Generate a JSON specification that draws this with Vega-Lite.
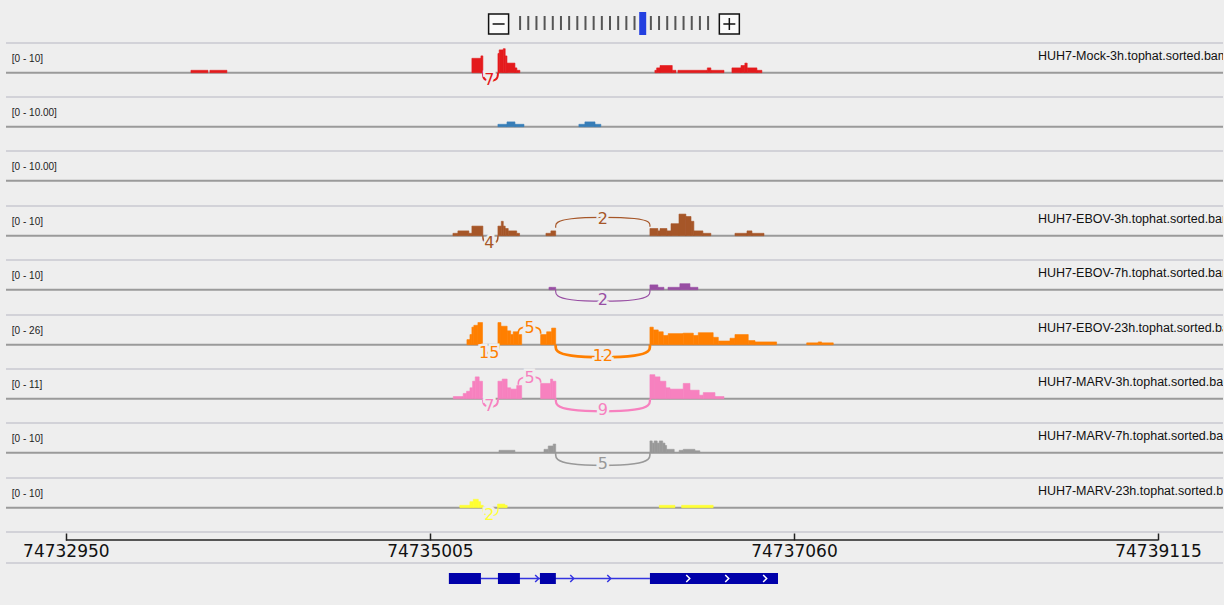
{
"$schema":"https://vega.github.io/schema/vega-lite/v6.json",
"background":"#eeeeee",
"padding":{"left":5,"right":0,"top":0,"bottom":0},
"spacing":0,
"bounds":"flush",
"config":{"view":{"stroke":null}},
"datasets":{
"tracks":[
{"track":"t1","range":"[0 - 10]","name":"HUH7-Mock-3h.tophat.sorted.bam"},
{"track":"t2","range":"[0 - 10.00]","name":""},
{"track":"t3","range":"[0 - 10.00]","name":""},
{"track":"t4","range":"[0 - 10]","name":"HUH7-EBOV-3h.tophat.sorted.bam"},
{"track":"t5","range":"[0 - 10]","name":"HUH7-EBOV-7h.tophat.sorted.bam"},
{"track":"t6","range":"[0 - 26]","name":"HUH7-EBOV-23h.tophat.sorted.bam"},
{"track":"t7","range":"[0 - 11]","name":"HUH7-MARV-3h.tophat.sorted.bam"},
{"track":"t8","range":"[0 - 10]","name":"HUH7-MARV-7h.tophat.sorted.bam"},
{"track":"t9","range":"[0 - 10]","name":"HUH7-MARV-23h.tophat.sorted.bam"}
],
"cov":[
{"track":"t1","s":74733656,"e":74733752,"v":1},{"track":"t1","s":74733763,"e":74733859,"v":1},
{"track":"t1","s":74735242,"e":74735293,"v":6},{"track":"t1","s":74735293,"e":74735304,"v":7},
{"track":"t1","s":74735389,"e":74735396,"v":8},{"track":"t1","s":74735396,"e":74735419,"v":9.5},{"track":"t1","s":74735419,"e":74735430,"v":10},{"track":"t1","s":74735430,"e":74735440,"v":7},{"track":"t1","s":74735440,"e":74735485,"v":4},{"track":"t1","s":74735485,"e":74735496,"v":2},{"track":"t1","s":74735496,"e":74735513,"v":1},
{"track":"t1","s":74736275,"e":74736285,"v":1},{"track":"t1","s":74736285,"e":74736304,"v":2},{"track":"t1","s":74736304,"e":74736373,"v":3},{"track":"t1","s":74736373,"e":74736394,"v":1},
{"track":"t1","s":74736405,"e":74736571,"v":1},{"track":"t1","s":74736571,"e":74736591,"v":2},{"track":"t1","s":74736591,"e":74736665,"v":1},
{"track":"t1","s":74736710,"e":74736761,"v":2},{"track":"t1","s":74736761,"e":74736783,"v":3},{"track":"t1","s":74736783,"e":74736796,"v":4},{"track":"t1","s":74736796,"e":74736851,"v":2},{"track":"t1","s":74736851,"e":74736879,"v":1},
{"track":"t2","s":74735389,"e":74735440,"v":1},{"track":"t2","s":74735440,"e":74735485,"v":2},{"track":"t2","s":74735485,"e":74735536,"v":1},{"track":"t2","s":74735846,"e":74735880,"v":1},{"track":"t2","s":74735880,"e":74735937,"v":2},{"track":"t2","s":74735937,"e":74735970,"v":1},
{"track":"t4","s":74735135,"e":74735163,"v":1},{"track":"t4","s":74735163,"e":74735225,"v":2},{"track":"t4","s":74735225,"e":74735242,"v":1},{"track":"t4","s":74735242,"e":74735304,"v":4},{"track":"t4","s":74735389,"e":74735408,"v":4},{"track":"t4","s":74735408,"e":74735419,"v":6},{"track":"t4","s":74735419,"e":74735430,"v":4},{"track":"t4","s":74735430,"e":74735447,"v":3},{"track":"t4","s":74735447,"e":74735495,"v":2},{"track":"t4","s":74735495,"e":74735511,"v":1},{"track":"t4","s":74735660,"e":74735688,"v":1},{"track":"t4","s":74735688,"e":74735715,"v":2},{"track":"t4","s":74736247,"e":74736292,"v":3},{"track":"t4","s":74736292,"e":74736304,"v":2},{"track":"t4","s":74736304,"e":74736343,"v":3},{"track":"t4","s":74736343,"e":74736366,"v":2},{"track":"t4","s":74736366,"e":74736411,"v":5},{"track":"t4","s":74736411,"e":74736450,"v":9},{"track":"t4","s":74736450,"e":74736479,"v":8},{"track":"t4","s":74736479,"e":74736495,"v":6},{"track":"t4","s":74736495,"e":74736546,"v":2},{"track":"t4","s":74736546,"e":74736591,"v":1},{"track":"t4","s":74736727,"e":74736795,"v":1},{"track":"t4","s":74736795,"e":74736823,"v":2},{"track":"t4","s":74736823,"e":74736891,"v":1},
{"track":"t5","s":74735677,"e":74735688,"v":1},{"track":"t5","s":74735688,"e":74735715,"v":1},{"track":"t5","s":74736247,"e":74736292,"v":2},{"track":"t5","s":74736292,"e":74736326,"v":1},{"track":"t5","s":74736349,"e":74736416,"v":1},{"track":"t5","s":74736416,"e":74736473,"v":2.5},{"track":"t5","s":74736473,"e":74736518,"v":1},
{"track":"t6","s":74735214,"e":74735231,"v":5.5},{"track":"t6","s":74735231,"e":74735242,"v":11},{"track":"t6","s":74735242,"e":74735253,"v":19},{"track":"t6","s":74735253,"e":74735276,"v":21},{"track":"t6","s":74735276,"e":74735302,"v":24},{"track":"t6","s":74735389,"e":74735406,"v":24},{"track":"t6","s":74735406,"e":74735441,"v":20},{"track":"t6","s":74735441,"e":74735461,"v":15},{"track":"t6","s":74735461,"e":74735475,"v":11},{"track":"t6","s":74735475,"e":74735504,"v":14},{"track":"t6","s":74735504,"e":74735523,"v":11},{"track":"t6","s":74735630,"e":74735664,"v":11},{"track":"t6","s":74735664,"e":74735692,"v":14},{"track":"t6","s":74735692,"e":74735715,"v":18},{"track":"t6","s":74736247,"e":74736266,"v":19},{"track":"t6","s":74736266,"e":74736294,"v":16},{"track":"t6","s":74736294,"e":74736322,"v":14},{"track":"t6","s":74736322,"e":74736350,"v":10},{"track":"t6","s":74736350,"e":74736435,"v":12},{"track":"t6","s":74736435,"e":74736492,"v":12.5},{"track":"t6","s":74736492,"e":74736520,"v":10},{"track":"t6","s":74736520,"e":74736604,"v":13},{"track":"t6","s":74736604,"e":74736633,"v":8},{"track":"t6","s":74736633,"e":74736699,"v":4},{"track":"t6","s":74736699,"e":74736727,"v":7},{"track":"t6","s":74736727,"e":74736802,"v":11},{"track":"t6","s":74736802,"e":74736840,"v":4.5},{"track":"t6","s":74736840,"e":74736962,"v":3},{"track":"t6","s":74737132,"e":74737197,"v":2},{"track":"t6","s":74737197,"e":74737216,"v":3},{"track":"t6","s":74737216,"e":74737282,"v":2},
{"track":"t7","s":74735137,"e":74735193,"v":1},{"track":"t7","s":74735193,"e":74735212,"v":2.4},{"track":"t7","s":74735212,"e":74735231,"v":3.4},{"track":"t7","s":74735231,"e":74735246,"v":5},{"track":"t7","s":74735246,"e":74735261,"v":8},{"track":"t7","s":74735261,"e":74735283,"v":10},{"track":"t7","s":74735283,"e":74735302,"v":8},{"track":"t7","s":74735389,"e":74735413,"v":8},{"track":"t7","s":74735413,"e":74735441,"v":9},{"track":"t7","s":74735441,"e":74735461,"v":5},{"track":"t7","s":74735461,"e":74735495,"v":4.4},{"track":"t7","s":74735495,"e":74735523,"v":6},{"track":"t7","s":74735630,"e":74735686,"v":7},{"track":"t7","s":74735686,"e":74735698,"v":9},{"track":"t7","s":74735698,"e":74735716,"v":8},{"track":"t7","s":74736247,"e":74736275,"v":11},{"track":"t7","s":74736275,"e":74736304,"v":10},{"track":"t7","s":74736304,"e":74736337,"v":8},{"track":"t7","s":74736337,"e":74736360,"v":5},{"track":"t7","s":74736360,"e":74736435,"v":4.4},{"track":"t7","s":74736435,"e":74736473,"v":7},{"track":"t7","s":74736473,"e":74736525,"v":3.9},{"track":"t7","s":74736525,"e":74736548,"v":1.6},{"track":"t7","s":74736548,"e":74736614,"v":2.8},{"track":"t7","s":74736614,"e":74736665,"v":1},
{"track":"t8","s":74735395,"e":74735485,"v":1},{"track":"t8","s":74735649,"e":74735673,"v":1.4},{"track":"t8","s":74735673,"e":74735701,"v":2.8},{"track":"t8","s":74735701,"e":74735715,"v":3.6},{"track":"t8","s":74736247,"e":74736260,"v":4.9},{"track":"t8","s":74736260,"e":74736271,"v":4},{"track":"t8","s":74736271,"e":74736288,"v":4.9},{"track":"t8","s":74736288,"e":74736300,"v":4},{"track":"t8","s":74736300,"e":74736319,"v":4.9},{"track":"t8","s":74736319,"e":74736332,"v":4},{"track":"t8","s":74736332,"e":74736341,"v":3},{"track":"t8","s":74736341,"e":74736384,"v":1.4},{"track":"t8","s":74736412,"e":74736435,"v":1},{"track":"t8","s":74736435,"e":74736501,"v":1.4},{"track":"t8","s":74736501,"e":74736529,"v":0.8},
{"track":"t9","s":74735174,"e":74735231,"v":1},{"track":"t9","s":74735231,"e":74735250,"v":2.5},{"track":"t9","s":74735250,"e":74735278,"v":3.5},{"track":"t9","s":74735278,"e":74735291,"v":2.5},{"track":"t9","s":74735291,"e":74735306,"v":1},{"track":"t9","s":74735387,"e":74735428,"v":1.5},{"track":"t9","s":74735428,"e":74735441,"v":1},{"track":"t9","s":74736300,"e":74736388,"v":1},{"track":"t9","s":74736426,"e":74736604,"v":1}
],
"arcs":[
{"track":"t1","id":"a","ord":1,"x":74735304,"y":0,"count":7},{"track":"t1","id":"a","ord":2,"x":74735304,"y":-3.5,"count":7},{"track":"t1","id":"a","ord":3,"x":74735389,"y":-3.5,"count":7},{"track":"t1","id":"a","ord":4,"x":74735389,"y":0,"count":7},
{"track":"t4","id":"a","ord":1,"x":74735304,"y":0,"count":4},{"track":"t4","id":"a","ord":2,"x":74735304,"y":-3.5,"count":4},{"track":"t4","id":"a","ord":3,"x":74735389,"y":-3.5,"count":4},{"track":"t4","id":"a","ord":4,"x":74735389,"y":0,"count":4},
{"track":"t4","id":"b","ord":1,"x":74735715,"y":3.3,"count":2},{"track":"t4","id":"b","ord":2,"x":74735715,"y":7.84,"count":2},{"track":"t4","id":"b","ord":3,"x":74736247,"y":7.84,"count":2},{"track":"t4","id":"b","ord":4,"x":74736247,"y":3.75,"count":2},
{"track":"t5","id":"a","ord":1,"x":74735715,"y":0,"count":2},{"track":"t5","id":"a","ord":2,"x":74735715,"y":-5,"count":2},{"track":"t5","id":"a","ord":3,"x":74736247,"y":-5,"count":2},{"track":"t5","id":"a","ord":4,"x":74736247,"y":0,"count":2},
{"track":"t6","id":"a","ord":1,"x":74735304,"y":0,"count":15},{"track":"t6","id":"a","ord":2,"x":74735304,"y":-10.4,"count":15},{"track":"t6","id":"a","ord":3,"x":74735389,"y":-10.4,"count":15},{"track":"t6","id":"a","ord":4,"x":74735389,"y":0,"count":15},
{"track":"t6","id":"b","ord":1,"x":74735504,"y":11.9,"count":5},{"track":"t6","id":"b","ord":2,"x":74735504,"y":19.7,"count":5},{"track":"t6","id":"b","ord":3,"x":74735630,"y":19.7,"count":5},{"track":"t6","id":"b","ord":4,"x":74735630,"y":11.9,"count":5},
{"track":"t6","id":"c","ord":1,"x":74735715,"y":0,"count":12},{"track":"t6","id":"c","ord":2,"x":74735715,"y":-14.3,"count":12},{"track":"t6","id":"c","ord":3,"x":74736247,"y":-14.3,"count":12},{"track":"t6","id":"c","ord":4,"x":74736247,"y":0,"count":12},
{"track":"t7","id":"a","ord":1,"x":74735304,"y":0,"count":7},{"track":"t7","id":"a","ord":2,"x":74735304,"y":-3.85,"count":7},{"track":"t7","id":"a","ord":3,"x":74735389,"y":-3.85,"count":7},{"track":"t7","id":"a","ord":4,"x":74735389,"y":0,"count":7},
{"track":"t7","id":"b","ord":1,"x":74735504,"y":6.4,"count":5},{"track":"t7","id":"b","ord":2,"x":74735504,"y":10.15,"count":5},{"track":"t7","id":"b","ord":3,"x":74735630,"y":10.15,"count":5},{"track":"t7","id":"b","ord":4,"x":74735630,"y":7.3,"count":5},
{"track":"t7","id":"c","ord":1,"x":74735716,"y":0,"count":9},{"track":"t7","id":"c","ord":2,"x":74735716,"y":-6.05,"count":9},{"track":"t7","id":"c","ord":3,"x":74736247,"y":-6.05,"count":9},{"track":"t7","id":"c","ord":4,"x":74736247,"y":0,"count":9},
{"track":"t8","id":"a","ord":1,"x":74735715,"y":0,"count":5},{"track":"t8","id":"a","ord":2,"x":74735715,"y":-5.5,"count":5},{"track":"t8","id":"a","ord":3,"x":74736247,"y":-5.5,"count":5},{"track":"t8","id":"a","ord":4,"x":74736247,"y":0,"count":5},
{"track":"t9","id":"a","ord":1,"x":74735304,"y":0,"count":2},{"track":"t9","id":"a","ord":2,"x":74735304,"y":-3.5,"count":2},{"track":"t9","id":"a","ord":3,"x":74735389,"y":-3.5,"count":2},{"track":"t9","id":"a","ord":4,"x":74735389,"y":0,"count":2}
],
"alabels":[
{"track":"t1","x":74735340,"y":-2.92,"n":"7"},
{"track":"t4","x":74735340,"y":-2.92,"n":"4"},{"track":"t4","x":74735981,"y":7.08,"n":"2"},
{"track":"t5","x":74735981,"y":-4.17,"n":"2"},
{"track":"t6","x":74735340,"y":-8.67,"n":"15"},{"track":"t6","x":74735567,"y":18.4,"n":"5"},{"track":"t6","x":74735981,"y":-11.9,"n":"12"},
{"track":"t7","x":74735340,"y":-3.2,"n":"7"},{"track":"t7","x":74735567,"y":9.6,"n":"5"},{"track":"t7","x":74735981,"y":-5.04,"n":"9"},
{"track":"t8","x":74735981,"y":-4.58,"n":"5"},
{"track":"t9","x":74735340,"y":-2.92,"n":"2"}
],
"gene":[
{"part":"intron","s":74735293,"e":74736247},
{"part":"exon","s":74735112,"e":74735293},
{"part":"exon","s":74735389,"e":74735513},
{"part":"exon","s":74735626,"e":74735716},
{"part":"exon","s":74736247,"e":74736970}
],
"strand":[
{"pos":74735609,"where":"intron"},{"pos":74735807,"where":"intron"},{"pos":74736016,"where":"intron"},
{"pos":74736462,"where":"exon"},{"pos":74736682,"where":"exon"},{"pos":74736896,"where":"exon"}
],
"levels":[{"lvl":0},{"lvl":1},{"lvl":2},{"lvl":3},{"lvl":4},{"lvl":5},{"lvl":6},{"lvl":7},{"lvl":8},{"lvl":9},{"lvl":10},{"lvl":11},{"lvl":12},{"lvl":13},{"lvl":14},{"lvl":16},{"lvl":17},{"lvl":18},{"lvl":19},{"lvl":20},{"lvl":21},{"lvl":22},{"lvl":23}]
},
"vconcat":[
{"width":1217,"height":43,
 "layer":[
  {"data":{"name":"levels"},"mark":{"type":"rule","color":"#555555","strokeWidth":2},
   "encoding":{"x":{"field":"lvl","type":"quantitative","scale":{"domain":[-62.9,86.0],"nice":false,"zero":false},"axis":null},
   "y":{"datum":0.302,"type":"quantitative","scale":{"domain":[0,1],"nice":false,"zero":false},"axis":null},"y2":{"datum":0.628}}},
  {"data":{"values":[{"lvl":15}]},"mark":{"type":"rule","color":"#2440e0","strokeWidth":7},
   "encoding":{"x":{"field":"lvl","type":"quantitative"},"y":{"datum":0.186,"type":"quantitative"},"y2":{"datum":0.721}}},
  {"data":{"values":[{}]},"mark":{"type":"point","shape":"square","size":400,"filled":true,"fill":"#fbfbfb","stroke":"#111111","strokeWidth":1.5,"opacity":1},
   "encoding":{"x":{"datum":-2.63,"type":"quantitative"},"y":{"datum":0.442,"type":"quantitative"}}},
  {"data":{"values":[{}]},"mark":{"type":"point","shape":"square","size":400,"filled":true,"fill":"#fbfbfb","stroke":"#111111","strokeWidth":1.5,"opacity":1},
   "encoding":{"x":{"datum":25.6,"type":"quantitative"},"y":{"datum":0.442,"type":"quantitative"}}},
  {"data":{"values":[{}]},"mark":{"type":"point","shape":"M-1,0H1","size":144,"filled":false,"stroke":"#111111","strokeWidth":1.5,"opacity":1},
   "encoding":{"x":{"datum":-2.63,"type":"quantitative"},"y":{"datum":0.442,"type":"quantitative"}}},
  {"data":{"values":[{}]},"mark":{"type":"point","shape":"M-1,0H1M0,-1V1","size":144,"filled":false,"stroke":"#111111","strokeWidth":1.5,"opacity":1},
   "encoding":{"x":{"datum":25.6,"type":"quantitative"},"y":{"datum":0.442,"type":"quantitative"}}}
 ]},
{"width":1217,"height":54,
 "layer":[
  {"data":{"values":[{}]},"mark":{"type":"rule","color":"#c8c8d0","strokeWidth":1.5},"encoding":{"y":{"datum":12.375,"type":"quantitative","scale":{"domain":[-10.125,12.375],"nice":false,"zero":false},"axis":null}}},
  {"data":{"values":[{}]},"mark":{"type":"rule","color":"#9a9a9a","strokeWidth":2},"encoding":{"y":{"datum":0,"type":"quantitative"}}},
  {"data":{"name":"cov"},"transform":[{"filter":"datum.track=='t1'"}],"mark":{"type":"rect","color":"#e41a1c","stroke":"#e41a1c","strokeWidth":0.6},"encoding":{"x":{"field":"s","type":"quantitative","scale":{"domain":[74732612,74739482],"nice":false,"zero":false},"axis":null},"x2":{"field":"e"},"y":{"field":"v","type":"quantitative"},"y2":{"datum":0}}},
  {"data":{"name":"arcs"},"transform":[{"filter":"datum.track=='t1'"}],"mark":{"type":"line","interpolate":"basis","color":"#e41a1c"},"encoding":{"x":{"field":"x","type":"quantitative"},"y":{"field":"y","type":"quantitative"},"detail":{"field":"id"},"order":{"field":"ord"},"strokeWidth":{"field":"count","type":"quantitative","scale":{"domain":[1,15],"range":[1,3.2]},"legend":null}}},
  {"data":{"name":"alabels"},"transform":[{"filter":"datum.track=='t1'"}],"mark":{"type":"text","font":"DejaVu Sans","fontSize":16,"fill":"#eeeeee","stroke":"#eeeeee","strokeWidth":5,"baseline":"middle"},"encoding":{"x":{"field":"x","type":"quantitative"},"y":{"field":"y","type":"quantitative"},"text":{"field":"n"}}},
  {"data":{"name":"alabels"},"transform":[{"filter":"datum.track=='t1'"}],"mark":{"type":"text","font":"DejaVu Sans","fontSize":16,"color":"#e41a1c","baseline":"middle"},"encoding":{"x":{"field":"x","type":"quantitative"},"y":{"field":"y","type":"quantitative"},"text":{"field":"n"}}},
  {"data":{"name":"tracks"},"transform":[{"filter":"datum.track=='t1'"}],"mark":{"type":"text","font":"Liberation Sans","fontSize":10,"color":"#222222","align":"left","baseline":"middle"},"encoding":{"x":{"datum":74732645,"type":"quantitative"},"y":{"datum":5.83,"type":"quantitative"},"text":{"field":"range"}}},
  {"data":{"name":"tracks"},"transform":[{"filter":"datum.track=='t1'"}],"mark":{"type":"text","font":"Liberation Sans","fontSize":12.5,"color":"#111111","align":"left","baseline":"middle","clip":true},"encoding":{"x":{"datum":74738437,"type":"quantitative"},"y":{"datum":7.08,"type":"quantitative"},"text":{"field":"name"}}}
 ]},
{"width":1217,"height":54,
 "layer":[
  {"data":{"values":[{}]},"mark":{"type":"rule","color":"#c8c8d0","strokeWidth":1.5},"encoding":{"y":{"datum":12.375,"type":"quantitative","scale":{"domain":[-10.125,12.375],"nice":false,"zero":false},"axis":null}}},
  {"data":{"values":[{}]},"mark":{"type":"rule","color":"#9a9a9a","strokeWidth":2},"encoding":{"y":{"datum":0,"type":"quantitative"}}},
  {"data":{"name":"cov"},"transform":[{"filter":"datum.track=='t2'"}],"mark":{"type":"rect","color":"#377eb8","stroke":"#377eb8","strokeWidth":0.6},"encoding":{"x":{"field":"s","type":"quantitative","scale":{"domain":[74732612,74739482],"nice":false,"zero":false},"axis":null},"x2":{"field":"e"},"y":{"field":"v","type":"quantitative"},"y2":{"datum":0}}},
  {"data":{"name":"tracks"},"transform":[{"filter":"datum.track=='t2'"}],"mark":{"type":"text","font":"Liberation Sans","fontSize":10,"color":"#222222","align":"left","baseline":"middle"},"encoding":{"x":{"datum":74732645,"type":"quantitative"},"y":{"datum":5.83,"type":"quantitative"},"text":{"field":"range"}}}
 ]},
{"width":1217,"height":55,
 "layer":[
  {"data":{"values":[{}]},"mark":{"type":"rule","color":"#c8c8d0","strokeWidth":1.5},"encoding":{"y":{"datum":12.375,"type":"quantitative","scale":{"domain":[-10.54,12.375],"nice":false,"zero":false},"axis":null}}},
  {"data":{"values":[{}]},"mark":{"type":"rule","color":"#9a9a9a","strokeWidth":2},"encoding":{"y":{"datum":0,"type":"quantitative"}}},
  {"data":{"name":"tracks"},"transform":[{"filter":"datum.track=='t3'"}],"mark":{"type":"text","font":"Liberation Sans","fontSize":10,"color":"#222222","align":"left","baseline":"middle"},"encoding":{"x":{"datum":74732645,"type":"quantitative","scale":{"domain":[74732612,74739482],"nice":false,"zero":false},"axis":null},"y":{"datum":5.83,"type":"quantitative"},"text":{"field":"range"}}}
 ]},
{"width":1217,"height":54,
 "layer":[
  {"data":{"values":[{}]},"mark":{"type":"rule","color":"#c8c8d0","strokeWidth":1.5},"encoding":{"y":{"datum":12.375,"type":"quantitative","scale":{"domain":[-10.125,12.375],"nice":false,"zero":false},"axis":null}}},
  {"data":{"values":[{}]},"mark":{"type":"rule","color":"#9a9a9a","strokeWidth":2},"encoding":{"y":{"datum":0,"type":"quantitative"}}},
  {"data":{"name":"cov"},"transform":[{"filter":"datum.track=='t4'"}],"mark":{"type":"rect","color":"#a65628","stroke":"#a65628","strokeWidth":0.6},"encoding":{"x":{"field":"s","type":"quantitative","scale":{"domain":[74732612,74739482],"nice":false,"zero":false},"axis":null},"x2":{"field":"e"},"y":{"field":"v","type":"quantitative"},"y2":{"datum":0}}},
  {"data":{"name":"arcs"},"transform":[{"filter":"datum.track=='t4'"}],"mark":{"type":"line","interpolate":"basis","color":"#a65628"},"encoding":{"x":{"field":"x","type":"quantitative"},"y":{"field":"y","type":"quantitative"},"detail":{"field":"id"},"order":{"field":"ord"},"strokeWidth":{"field":"count","type":"quantitative","scale":{"domain":[1,15],"range":[1,3.2]},"legend":null}}},
  {"data":{"name":"alabels"},"transform":[{"filter":"datum.track=='t4'"}],"mark":{"type":"text","font":"DejaVu Sans","fontSize":16,"fill":"#eeeeee","stroke":"#eeeeee","strokeWidth":5,"baseline":"middle"},"encoding":{"x":{"field":"x","type":"quantitative"},"y":{"field":"y","type":"quantitative"},"text":{"field":"n"}}},
  {"data":{"name":"alabels"},"transform":[{"filter":"datum.track=='t4'"}],"mark":{"type":"text","font":"DejaVu Sans","fontSize":16,"color":"#a65628","baseline":"middle"},"encoding":{"x":{"field":"x","type":"quantitative"},"y":{"field":"y","type":"quantitative"},"text":{"field":"n"}}},
  {"data":{"name":"tracks"},"transform":[{"filter":"datum.track=='t4'"}],"mark":{"type":"text","font":"Liberation Sans","fontSize":10,"color":"#222222","align":"left","baseline":"middle"},"encoding":{"x":{"datum":74732645,"type":"quantitative"},"y":{"datum":5.83,"type":"quantitative"},"text":{"field":"range"}}},
  {"data":{"name":"tracks"},"transform":[{"filter":"datum.track=='t4'"}],"mark":{"type":"text","font":"Liberation Sans","fontSize":12.5,"color":"#111111","align":"left","baseline":"middle","clip":true},"encoding":{"x":{"datum":74738437,"type":"quantitative"},"y":{"datum":7.08,"type":"quantitative"},"text":{"field":"name"}}}
 ]},
{"width":1217,"height":55,
 "layer":[
  {"data":{"values":[{}]},"mark":{"type":"rule","color":"#c8c8d0","strokeWidth":1.5},"encoding":{"y":{"datum":12.375,"type":"quantitative","scale":{"domain":[-10.54,12.375],"nice":false,"zero":false},"axis":null}}},
  {"data":{"values":[{}]},"mark":{"type":"rule","color":"#9a9a9a","strokeWidth":2},"encoding":{"y":{"datum":0,"type":"quantitative"}}},
  {"data":{"name":"cov"},"transform":[{"filter":"datum.track=='t5'"}],"mark":{"type":"rect","color":"#984ea3","stroke":"#984ea3","strokeWidth":0.6},"encoding":{"x":{"field":"s","type":"quantitative","scale":{"domain":[74732612,74739482],"nice":false,"zero":false},"axis":null},"x2":{"field":"e"},"y":{"field":"v","type":"quantitative"},"y2":{"datum":0}}},
  {"data":{"name":"arcs"},"transform":[{"filter":"datum.track=='t5'"}],"mark":{"type":"line","interpolate":"basis","color":"#984ea3"},"encoding":{"x":{"field":"x","type":"quantitative"},"y":{"field":"y","type":"quantitative"},"detail":{"field":"id"},"order":{"field":"ord"},"strokeWidth":{"field":"count","type":"quantitative","scale":{"domain":[1,15],"range":[1,3.2]},"legend":null}}},
  {"data":{"name":"alabels"},"transform":[{"filter":"datum.track=='t5'"}],"mark":{"type":"text","font":"DejaVu Sans","fontSize":16,"fill":"#eeeeee","stroke":"#eeeeee","strokeWidth":5,"baseline":"middle"},"encoding":{"x":{"field":"x","type":"quantitative"},"y":{"field":"y","type":"quantitative"},"text":{"field":"n"}}},
  {"data":{"name":"alabels"},"transform":[{"filter":"datum.track=='t5'"}],"mark":{"type":"text","font":"DejaVu Sans","fontSize":16,"color":"#984ea3","baseline":"middle"},"encoding":{"x":{"field":"x","type":"quantitative"},"y":{"field":"y","type":"quantitative"},"text":{"field":"n"}}},
  {"data":{"name":"tracks"},"transform":[{"filter":"datum.track=='t5'"}],"mark":{"type":"text","font":"Liberation Sans","fontSize":10,"color":"#222222","align":"left","baseline":"middle"},"encoding":{"x":{"datum":74732645,"type":"quantitative"},"y":{"datum":5.83,"type":"quantitative"},"text":{"field":"range"}}},
  {"data":{"name":"tracks"},"transform":[{"filter":"datum.track=='t5'"}],"mark":{"type":"text","font":"Liberation Sans","fontSize":12.5,"color":"#111111","align":"left","baseline":"middle","clip":true},"encoding":{"x":{"datum":74738437,"type":"quantitative"},"y":{"datum":7.08,"type":"quantitative"},"text":{"field":"name"}}}
 ]},
{"width":1217,"height":54,
 "layer":[
  {"data":{"values":[{}]},"mark":{"type":"rule","color":"#c8c8d0","strokeWidth":1.5},"encoding":{"y":{"datum":32.175,"type":"quantitative","scale":{"domain":[-26.325,32.175],"nice":false,"zero":false},"axis":null}}},
  {"data":{"values":[{}]},"mark":{"type":"rule","color":"#9a9a9a","strokeWidth":2},"encoding":{"y":{"datum":0,"type":"quantitative"}}},
  {"data":{"name":"cov"},"transform":[{"filter":"datum.track=='t6'"}],"mark":{"type":"rect","color":"#ff7f00","stroke":"#ff7f00","strokeWidth":0.6},"encoding":{"x":{"field":"s","type":"quantitative","scale":{"domain":[74732612,74739482],"nice":false,"zero":false},"axis":null},"x2":{"field":"e"},"y":{"field":"v","type":"quantitative"},"y2":{"datum":0}}},
  {"data":{"name":"arcs"},"transform":[{"filter":"datum.track=='t6'"}],"mark":{"type":"line","interpolate":"basis","color":"#ff7f00"},"encoding":{"x":{"field":"x","type":"quantitative"},"y":{"field":"y","type":"quantitative"},"detail":{"field":"id"},"order":{"field":"ord"},"strokeWidth":{"field":"count","type":"quantitative","scale":{"domain":[1,15],"range":[1,3.2]},"legend":null}}},
  {"data":{"name":"alabels"},"transform":[{"filter":"datum.track=='t6'"}],"mark":{"type":"text","font":"DejaVu Sans","fontSize":16,"fill":"#eeeeee","stroke":"#eeeeee","strokeWidth":5,"baseline":"middle"},"encoding":{"x":{"field":"x","type":"quantitative"},"y":{"field":"y","type":"quantitative"},"text":{"field":"n"}}},
  {"data":{"name":"alabels"},"transform":[{"filter":"datum.track=='t6'"}],"mark":{"type":"text","font":"DejaVu Sans","fontSize":16,"color":"#ff7f00","baseline":"middle"},"encoding":{"x":{"field":"x","type":"quantitative"},"y":{"field":"y","type":"quantitative"},"text":{"field":"n"}}},
  {"data":{"name":"tracks"},"transform":[{"filter":"datum.track=='t6'"}],"mark":{"type":"text","font":"Liberation Sans","fontSize":10,"color":"#222222","align":"left","baseline":"middle"},"encoding":{"x":{"datum":74732645,"type":"quantitative"},"y":{"datum":15.16,"type":"quantitative"},"text":{"field":"range"}}},
  {"data":{"name":"tracks"},"transform":[{"filter":"datum.track=='t6'"}],"mark":{"type":"text","font":"Liberation Sans","fontSize":12.5,"color":"#111111","align":"left","baseline":"middle","clip":true},"encoding":{"x":{"datum":74738437,"type":"quantitative"},"y":{"datum":18.4,"type":"quantitative"},"text":{"field":"name"}}}
 ]},
{"width":1217,"height":54,
 "layer":[
  {"data":{"values":[{}]},"mark":{"type":"rule","color":"#c8c8d0","strokeWidth":1.5},"encoding":{"y":{"datum":13.6125,"type":"quantitative","scale":{"domain":[-11.1375,13.6125],"nice":false,"zero":false},"axis":null}}},
  {"data":{"values":[{}]},"mark":{"type":"rule","color":"#9a9a9a","strokeWidth":2},"encoding":{"y":{"datum":0,"type":"quantitative"}}},
  {"data":{"name":"cov"},"transform":[{"filter":"datum.track=='t7'"}],"mark":{"type":"rect","color":"#f781bf","stroke":"#f781bf","strokeWidth":0.6},"encoding":{"x":{"field":"s","type":"quantitative","scale":{"domain":[74732612,74739482],"nice":false,"zero":false},"axis":null},"x2":{"field":"e"},"y":{"field":"v","type":"quantitative"},"y2":{"datum":0}}},
  {"data":{"name":"arcs"},"transform":[{"filter":"datum.track=='t7'"}],"mark":{"type":"line","interpolate":"basis","color":"#f781bf"},"encoding":{"x":{"field":"x","type":"quantitative"},"y":{"field":"y","type":"quantitative"},"detail":{"field":"id"},"order":{"field":"ord"},"strokeWidth":{"field":"count","type":"quantitative","scale":{"domain":[1,15],"range":[1,3.2]},"legend":null}}},
  {"data":{"name":"alabels"},"transform":[{"filter":"datum.track=='t7'"}],"mark":{"type":"text","font":"DejaVu Sans","fontSize":16,"fill":"#eeeeee","stroke":"#eeeeee","strokeWidth":5,"baseline":"middle"},"encoding":{"x":{"field":"x","type":"quantitative"},"y":{"field":"y","type":"quantitative"},"text":{"field":"n"}}},
  {"data":{"name":"alabels"},"transform":[{"filter":"datum.track=='t7'"}],"mark":{"type":"text","font":"DejaVu Sans","fontSize":16,"color":"#f781bf","baseline":"middle"},"encoding":{"x":{"field":"x","type":"quantitative"},"y":{"field":"y","type":"quantitative"},"text":{"field":"n"}}},
  {"data":{"name":"tracks"},"transform":[{"filter":"datum.track=='t7'"}],"mark":{"type":"text","font":"Liberation Sans","fontSize":10,"color":"#222222","align":"left","baseline":"middle"},"encoding":{"x":{"datum":74732645,"type":"quantitative"},"y":{"datum":6.41,"type":"quantitative"},"text":{"field":"range"}}},
  {"data":{"name":"tracks"},"transform":[{"filter":"datum.track=='t7'"}],"mark":{"type":"text","font":"Liberation Sans","fontSize":12.5,"color":"#111111","align":"left","baseline":"middle","clip":true},"encoding":{"x":{"datum":74738437,"type":"quantitative"},"y":{"datum":7.79,"type":"quantitative"},"text":{"field":"name"}}}
 ]},
{"width":1217,"height":55,
 "layer":[
  {"data":{"values":[{}]},"mark":{"type":"rule","color":"#c8c8d0","strokeWidth":1.5},"encoding":{"y":{"datum":12.375,"type":"quantitative","scale":{"domain":[-10.54,12.375],"nice":false,"zero":false},"axis":null}}},
  {"data":{"values":[{}]},"mark":{"type":"rule","color":"#9a9a9a","strokeWidth":2},"encoding":{"y":{"datum":0,"type":"quantitative"}}},
  {"data":{"name":"cov"},"transform":[{"filter":"datum.track=='t8'"}],"mark":{"type":"rect","color":"#999999","stroke":"#999999","strokeWidth":0.6},"encoding":{"x":{"field":"s","type":"quantitative","scale":{"domain":[74732612,74739482],"nice":false,"zero":false},"axis":null},"x2":{"field":"e"},"y":{"field":"v","type":"quantitative"},"y2":{"datum":0}}},
  {"data":{"name":"arcs"},"transform":[{"filter":"datum.track=='t8'"}],"mark":{"type":"line","interpolate":"basis","color":"#999999"},"encoding":{"x":{"field":"x","type":"quantitative"},"y":{"field":"y","type":"quantitative"},"detail":{"field":"id"},"order":{"field":"ord"},"strokeWidth":{"field":"count","type":"quantitative","scale":{"domain":[1,15],"range":[1,3.2]},"legend":null}}},
  {"data":{"name":"alabels"},"transform":[{"filter":"datum.track=='t8'"}],"mark":{"type":"text","font":"DejaVu Sans","fontSize":16,"fill":"#eeeeee","stroke":"#eeeeee","strokeWidth":5,"baseline":"middle"},"encoding":{"x":{"field":"x","type":"quantitative"},"y":{"field":"y","type":"quantitative"},"text":{"field":"n"}}},
  {"data":{"name":"alabels"},"transform":[{"filter":"datum.track=='t8'"}],"mark":{"type":"text","font":"DejaVu Sans","fontSize":16,"color":"#999999","baseline":"middle"},"encoding":{"x":{"field":"x","type":"quantitative"},"y":{"field":"y","type":"quantitative"},"text":{"field":"n"}}},
  {"data":{"name":"tracks"},"transform":[{"filter":"datum.track=='t8'"}],"mark":{"type":"text","font":"Liberation Sans","fontSize":10,"color":"#222222","align":"left","baseline":"middle"},"encoding":{"x":{"datum":74732645,"type":"quantitative"},"y":{"datum":5.83,"type":"quantitative"},"text":{"field":"range"}}},
  {"data":{"name":"tracks"},"transform":[{"filter":"datum.track=='t8'"}],"mark":{"type":"text","font":"Liberation Sans","fontSize":12.5,"color":"#111111","align":"left","baseline":"middle","clip":true},"encoding":{"x":{"datum":74738437,"type":"quantitative"},"y":{"datum":7.08,"type":"quantitative"},"text":{"field":"name"}}}
 ]},
{"width":1217,"height":54,
 "layer":[
  {"data":{"values":[{}]},"mark":{"type":"rule","color":"#c8c8d0","strokeWidth":1.5},"encoding":{"y":{"datum":12.375,"type":"quantitative","scale":{"domain":[-10.125,12.375],"nice":false,"zero":false},"axis":null}}},
  {"data":{"values":[{}]},"mark":{"type":"rule","color":"#c8c8d0","strokeWidth":1.5},"encoding":{"y":{"datum":-10.125,"type":"quantitative"}}},
  {"data":{"values":[{}]},"mark":{"type":"rule","color":"#9a9a9a","strokeWidth":2},"encoding":{"y":{"datum":0,"type":"quantitative"}}},
  {"data":{"name":"cov"},"transform":[{"filter":"datum.track=='t9'"}],"mark":{"type":"rect","color":"#ffff33","stroke":"#ffff33","strokeWidth":0.6},"encoding":{"x":{"field":"s","type":"quantitative","scale":{"domain":[74732612,74739482],"nice":false,"zero":false},"axis":null},"x2":{"field":"e"},"y":{"field":"v","type":"quantitative"},"y2":{"datum":0}}},
  {"data":{"name":"arcs"},"transform":[{"filter":"datum.track=='t9'"}],"mark":{"type":"line","interpolate":"basis","color":"#ffff33"},"encoding":{"x":{"field":"x","type":"quantitative"},"y":{"field":"y","type":"quantitative"},"detail":{"field":"id"},"order":{"field":"ord"},"strokeWidth":{"field":"count","type":"quantitative","scale":{"domain":[1,15],"range":[1,3.2]},"legend":null}}},
  {"data":{"name":"alabels"},"transform":[{"filter":"datum.track=='t9'"}],"mark":{"type":"text","font":"DejaVu Sans","fontSize":16,"fill":"#eeeeee","stroke":"#eeeeee","strokeWidth":5,"baseline":"middle"},"encoding":{"x":{"field":"x","type":"quantitative"},"y":{"field":"y","type":"quantitative"},"text":{"field":"n"}}},
  {"data":{"name":"alabels"},"transform":[{"filter":"datum.track=='t9'"}],"mark":{"type":"text","font":"DejaVu Sans","fontSize":16,"color":"#ffff33","baseline":"middle"},"encoding":{"x":{"field":"x","type":"quantitative"},"y":{"field":"y","type":"quantitative"},"text":{"field":"n"}}},
  {"data":{"name":"tracks"},"transform":[{"filter":"datum.track=='t9'"}],"mark":{"type":"text","font":"Liberation Sans","fontSize":10,"color":"#222222","align":"left","baseline":"middle"},"encoding":{"x":{"datum":74732645,"type":"quantitative"},"y":{"datum":5.83,"type":"quantitative"},"text":{"field":"range"}}},
  {"data":{"name":"tracks"},"transform":[{"filter":"datum.track=='t9'"}],"mark":{"type":"text","font":"Liberation Sans","fontSize":12.5,"color":"#111111","align":"left","baseline":"middle","clip":true},"encoding":{"x":{"datum":74738437,"type":"quantitative"},"y":{"datum":7.08,"type":"quantitative"},"text":{"field":"name"}}}
 ]},
{"width":1217,"height":31,
 "layer":[
  {"data":{"values":[{}]},"mark":{"type":"rule","color":"#222222","strokeWidth":1.5},
   "encoding":{"x":{"datum":74732950,"type":"quantitative","scale":{"domain":[74732612,74739482],"nice":false,"zero":false},
     "axis":{"orient":"bottom","offset":-23,"domain":false,"grid":false,"values":[74732950,74735005,74737060,74739115],"format":"d","tickSize":-7,"tickColor":"#222222","tickWidth":1.5,"labelFont":"DejaVu Sans","labelFontSize":17,"labelColor":"#111111","labelPadding":10,"labelFlush":false,"labelOverlap":false,"title":null}},
   "x2":{"datum":74739115},
   "y":{"datum":23,"type":"quantitative","scale":{"domain":[0,31],"nice":false,"zero":false},"axis":null}}}
 ]},
{"width":1217,"height":42,
 "layer":[
  {"data":{"values":[{}]},"mark":{"type":"rule","color":"#c8c8d0","strokeWidth":1.5},"encoding":{"y":{"datum":1.55,"type":"quantitative","scale":{"domain":[-2.65,1.55],"nice":false,"zero":false},"axis":null}}},
  {"data":{"name":"gene"},"transform":[{"filter":"datum.part=='intron'"}],"mark":{"type":"rule","color":"#3434e0","strokeWidth":1.5},"encoding":{"x":{"field":"s","type":"quantitative","scale":{"domain":[74732612,74739482],"nice":false,"zero":false},"axis":null},"x2":{"field":"e"},"y":{"datum":0,"type":"quantitative"}}},
  {"data":{"name":"gene"},"transform":[{"filter":"datum.part=='exon'"}],"mark":{"type":"rect","color":"#0000aa"},"encoding":{"x":{"field":"s","type":"quantitative"},"x2":{"field":"e"},"y":{"datum":0.55,"type":"quantitative"},"y2":{"datum":-0.55}}},
  {"data":{"name":"strand"},"mark":{"type":"point","shape":"M-0.5,-1L0.5,0L-0.5,1","size":49,"filled":false,"strokeWidth":1.5,"opacity":1},"encoding":{"x":{"field":"pos","type":"quantitative"},"y":{"datum":0,"type":"quantitative"},"stroke":{"field":"where","type":"nominal","scale":{"domain":["intron","exon"],"range":["#3434e0","#ffffff"]},"legend":null}}}
 ]}
]
}
